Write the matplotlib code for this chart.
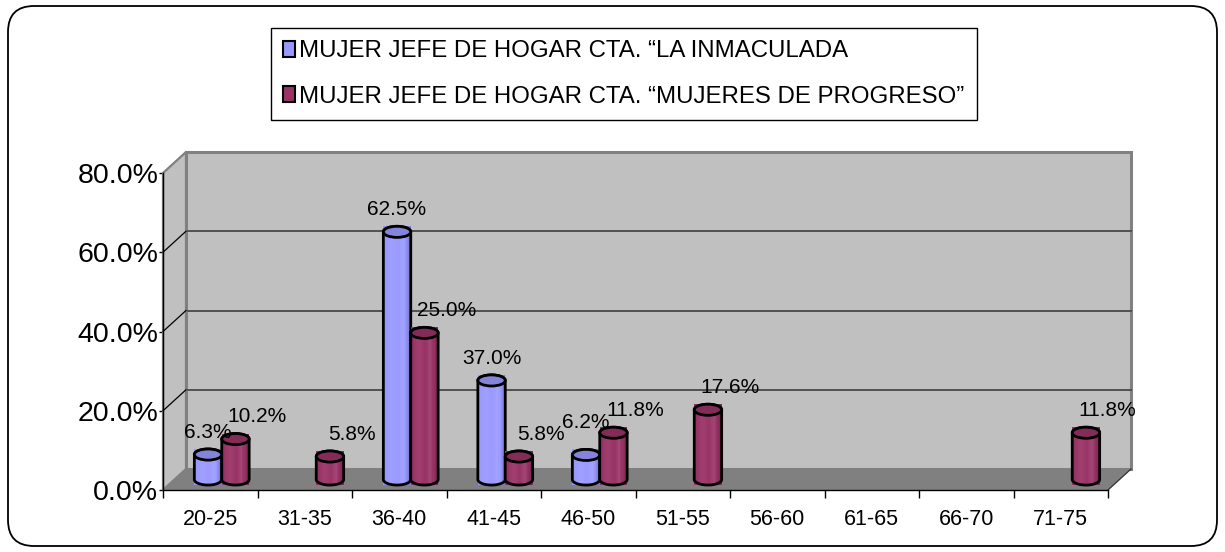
import numpy as np
import matplotlib
matplotlib.use('Agg')
import matplotlib.pyplot as plt
from matplotlib.patches import Rectangle, Polygon, Ellipse, FancyBboxPatch, Patch
from matplotlib.transforms import offset_copy, IdentityTransform
from matplotlib.colors import to_rgb

# ---------------------------------------------------------------------------- #
#                                     DATA                                     #
# ---------------------------------------------------------------------------- #
categories = ['20-25', '31-35', '36-40', '41-45', '46-50',
              '51-55', '56-60', '61-65', '66-70', '71-75']
series_names = ['MUJER JEFE DE HOGAR CTA. \u201cLA INMACULADA',
                'MUJER JEFE DE HOGAR CTA. \u201cMUJERES DE PROGRESO\u201d']
# bar heights as drawn in the picture (%)
inmaculada = [6.3, 0, 62.5, 25.0, 6.2, 0, 0, 0, 0, 0]
progreso = [10.2, 5.8, 37.0, 5.8, 11.8, 17.6, 0, 0, 0, 11.8]
# data label texts as printed in the picture
inmaculada_labels = ['6.3%', '', '62.5%', '37.0%', '6.2%', '', '', '', '', '']
progreso_labels = ['10.2%', '5.8%', '25.0%', '5.8%', '11.8%', '17.6%', '', '', '', '11.8%']
yticks = [0, 20, 40, 60, 80]

colors = ['#9999FF', '#993366']
FONT = 'Liberation Sans'
DX, DY = 23, 21            # depth offset of the back wall, pixels


def shade(c, f):
    c = np.array(to_rgb(c))
    if f >= 1:
        return tuple(c + (1 - c) * (f - 1))
    return tuple(c * f)


# ---------------------------------------------------------------------------- #
#                                     PLOT                                     #
# ---------------------------------------------------------------------------- #
fig = plt.figure(figsize=(12.25, 5.52), dpi=100)
ax = fig.add_axes([163 / 1225, 62 / 552, 945 / 1225, 317 / 552])
ax.set_xlim(0, len(categories))
ax.set_ylim(yticks[0], yticks[-1])
ax.patch.set_visible(False)
for s in ['top', 'right']:
    ax.spines[s].set_visible(False)
for s in ['left', 'bottom']:
    ax.spines[s].set_color('black')
    ax.spines[s].set_linewidth(1)
    ax.spines[s].set_zorder(4)

back = offset_copy(ax.transData, fig=fig, x=DX, y=DY, units='dots')
mid = offset_copy(ax.transData, fig=fig, x=DX / 2, y=DY / 2, units='dots')


def disp(x, y, d):
    return ax.transData.transform((x, y)) + d * np.array([DX, DY])


n = len(categories)
ytop = yticks[-1]
# back wall
ax.add_patch(Rectangle((0, 0), n, ytop, transform=back, fc='#C0C0C0',
                       ec='#808080', lw=2.2, zorder=1, clip_on=False))
for v in yticks[1:-1]:
    ax.plot([0, n], [v, v], transform=back, color='#505050', lw=1.4,
            zorder=1.5, clip_on=False)
# left wall
ax.add_patch(Polygon([disp(0, 0, 0), disp(0, ytop, 0), disp(0, ytop, 1), disp(0, 0, 1)],
                     transform=IdentityTransform(), fc='#C0C0C0', ec='#808080',
                     lw=1.6, zorder=2, clip_on=False))
for v in yticks[1:-1]:
    p0, p1 = disp(0, v, 0), disp(0, v, 1)
    ax.add_line(plt.Line2D([p0[0], p1[0]], [p0[1], p1[1]], transform=IdentityTransform(),
                           color='black', lw=0.9, zorder=2.2, clip_on=False))
# floor
ax.add_patch(Polygon([disp(0, 0, 0), disp(n, 0, 0), disp(n, 0, 1), disp(0, 0, 1)],
                     transform=IdentityTransform(), fc='#808080', ec='none',
                     zorder=2, clip_on=False))
p0, p1 = disp(n, 0, 0), disp(n, 0, 1)
ax.add_line(plt.Line2D([p0[0], p1[0]], [p0[1], p1[1]], transform=IdentityTransform(),
                       color='#303030', lw=0.9, zorder=2.2, clip_on=False))

# cylinders
w = 0.29
ry = 1.4
tt = np.linspace(0, np.pi, 40)
stripe_t = [0, 0.3, 0.55, 0.72, 0.85, 1]
stripe_f = [0.97, 1.06, 1.0, 1.1, 0.95, 0.78]
z = 3
for i in range(n):
    for s, vals in enumerate([inmaculada, progreso]):
        h = vals[i]
        if h <= 0:
            continue
        xc = i + 0.5 + (s - 0.5) * w
        x0, x1 = xc - w / 2, xc + w / 2
        bottom = np.column_stack([xc - w / 2 * np.cos(tt), -ry * np.sin(tt)])
        top = np.column_stack([xc + w / 2 * np.cos(tt), h + ry * np.sin(tt)])
        body = Polygon(np.vstack([[[x0, h]], bottom, [[x1, h]], top]),
                       transform=mid, fc='none', ec='black', lw=2, zorder=z + 0.5,
                       clip_on=False)
        ns = 24
        for k in range(ns):
            t = (k + 0.5) / ns
            f = np.interp(t, stripe_t, stripe_f)
            r = Rectangle((x0 + k * w / ns, -ry), w / ns * 1.05, h + 2 * ry,
                          transform=mid, fc=shade(colors[s], f), ec='none',
                          zorder=z, clip_on=False)
            r.set_clip_path(body)
            ax.add_patch(r)
        ax.add_patch(body)
        ax.add_patch(Ellipse((xc, h), w, 2 * ry, transform=mid,
                             fc=shade(colors[s], 0.86), ec='black', lw=2,
                             zorder=z + 0.6, clip_on=False))
        z += 1


# data labels, category by category; lift a label that runs into an earlier one
def clash(a, b):
    hor = min(a.x1, b.x1) - max(a.x0, b.x0) > -3
    ver = abs((a.y0 + a.y1) / 2 - (b.y0 + b.y1) / 2) < 0.6 * a.height
    return hor and ver


renderer = fig.canvas.get_renderer()
placed = []
for i in range(n):
    for s, labs in enumerate([inmaculada_labels, progreso_labels]):
        lab = labs[i]
        if not lab:
            continue
        h = [inmaculada, progreso][s][i]
        xc = i + 0.5 + (s - 0.5) * w + (0.23 if s == 1 else 0.0)
        ty = h + 5.6
        txt = ax.text(xc, ty, lab, transform=mid, ha='center', va='center',
                      fontsize=15, family=FONT, color='black', zorder=50)
        while any(clash(txt.get_window_extent(renderer), b) for b in placed):
            ty += 0.5
            txt.set_y(ty)
        placed.append(txt.get_window_extent(renderer))

# axes ticks
ax.set_yticks(yticks)
ax.set_yticklabels(['%.1f%%' % v for v in yticks], family=FONT, fontsize=20.5)
ax.tick_params(axis='y', direction='out', length=3, width=1, pad=0.5)
ax.set_xticks(np.arange(n + 1))
ax.set_xticklabels([])
ax.set_xticks(np.arange(n) + 0.5, minor=True)
ax.set_xticklabels(categories, minor=True, family=FONT, fontsize=15.5)
ax.tick_params(axis='x', which='major', direction='out', length=6, width=1)
ax.tick_params(axis='x', which='minor', length=0, pad=14)

# legend
handles = [Patch(fc=c, ec='black', lw=1.5) for c in colors]
fig.legend(handles, series_names, loc='upper left',
           bbox_to_anchor=(271 / 1225, 1 - 28 / 552), borderaxespad=0,
           prop={'family': FONT, 'size': 17.3}, frameon=True, fancybox=False,
           edgecolor='black', framealpha=1, handlelength=0.5, handleheight=0.65,
           handletextpad=0.18, labelspacing=0.99, borderpad=0.5)

# outer rounded frame
fig.add_artist(FancyBboxPatch((8, 6), 1209, 540,
                              boxstyle='round,pad=0,rounding_size=26',
                              transform=IdentityTransform(), fc='none',
                              ec='black', lw=1.3))

plt.savefig('out.png', dpi=100)
plt.close('all')
